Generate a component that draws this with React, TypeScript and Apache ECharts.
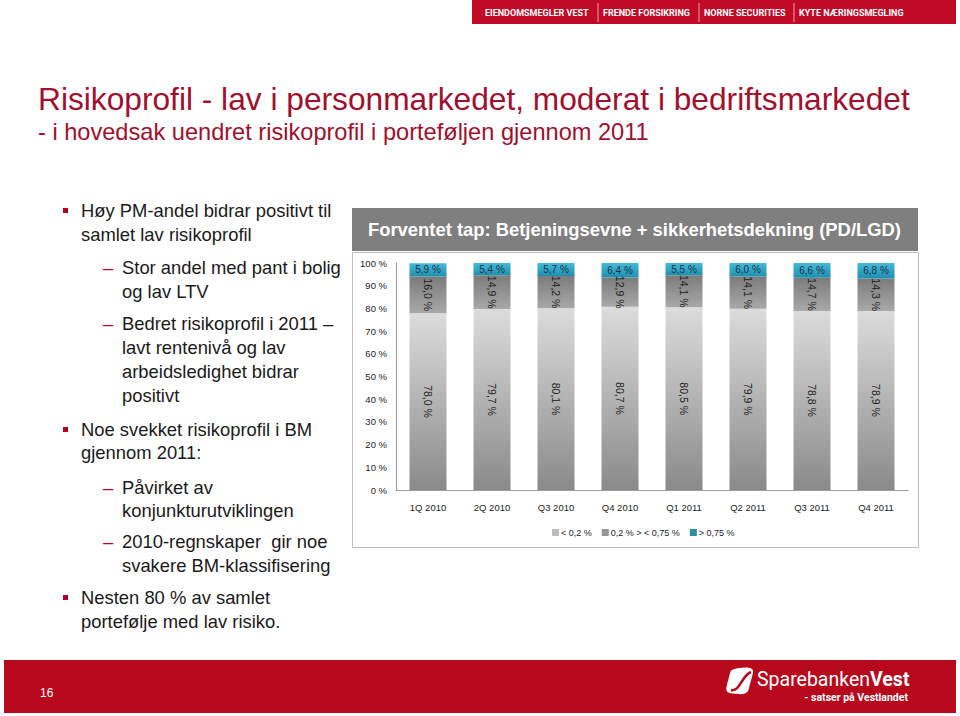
import React, { useEffect, useRef } from "react";
import * as echarts from "echarts";

const categories = ["1Q 2010", "2Q 2010", "Q3 2010", "Q4 2010", "Q1 2011", "Q2 2011", "Q3 2011", "Q4 2011"];
const lowRisk = [78.0, 79.7, 80.1, 80.7, 80.5, 79.9, 78.8, 78.9];
const midRisk = [16.0, 14.9, 14.2, 12.9, 14.1, 14.1, 14.7, 14.3];
const highRisk = [5.9, 5.4, 5.7, 6.4, 5.5, 6.0, 6.6, 6.8];
const seriesNames = ["< 0,2 %", "0,2 % > < 0,75 %", "> 0,75 %"];

const topBarItems = ["EIENDOMSMEGLER VEST", "FRENDE FORSIKRING", "NORNE SECURITIES", "KYTE NÆRINGSMEGLING"];
const titleText = "Risikoprofil - lav i personmarkedet, moderat i bedriftsmarkedet";
const subtitleText = "- i hovedsak uendret risikoprofil i porteføljen gjennom 2011";
const chartTitle = "Forventet tap: Betjeningsevne + sikkerhetsdekning (PD/LGD)";
const pageNumber = "16";

const bulletLevels = [1, 2, 2, 1, 2, 2, 1];
const bulletTexts = [
  ["Høy PM-andel bidrar positivt til", "samlet lav risikoprofil"],
  ["Stor andel med pant i bolig", "og lav LTV"],
  ["Bedret risikoprofil i 2011 –", "lavt rentenivå og lav", "arbeidsledighet bidrar", "positivt"],
  ["Noe svekket risikoprofil i BM", "gjennom 2011:"],
  ["Påvirket av", "konjunkturutviklingen"],
  ["2010-regnskaper  gir noe", "svakere BM-klassifisering"],
  ["Nesten 80 % av samlet", "portefølje med lav risiko."],
];

const fmt = (v: number) => v.toFixed(1).replace(".", ",") + " %";

echarts.graphic.registerShape(
  "sbvLogo",
  echarts.graphic.extendPath(
    "M7 3 C14 0.5 24 0 28 1.5 C30.5 2.5 30.5 5.5 29.5 8.5 L25 25 C24 28 21 29.5 16 29.5 C10 29.5 4 29 1.5 27 C0 25.5 0.2 22.5 1 19.5 L4.5 6.5 C5 4.8 5.8 3.5 7 3 Z",
    {}
  )
);

export default function App() {
  const ref = useRef<HTMLDivElement>(null);
  useEffect(() => {
    if (!ref.current) return;
    const chart = echarts.init(ref.current, undefined, { renderer: "svg" });

    const txt = (x: number, y: number, text: string, s: any) => ({
      type: "text",
      x,
      y,
      silent: true,
      style: Object.assign(
        {
          text,
          fontFamily: "Liberation Sans, Arial",
          align: "left",
          textAlign: "left",
          verticalAlign: "middle",
          textVerticalAlign: "middle",
        },
        s
      ),
    });

    const graphics: any[] = [];
    // top red bar
    graphics.push({ type: "rect", silent: true, shape: { x: 472, y: 0, width: 484, height: 24 }, style: { fill: "#C10A25" } });
    const topX = [485, 603, 704, 799];
    topBarItems.forEach((t, i) => {
      graphics.push(txt(topX[i], 13, t, { fill: "#ffffff", fontSize: 9, fontWeight: "bold", fontFamily: "Roboto" }));
    });
    [598, 699, 794].forEach((x) => {
      graphics.push({ type: "line", silent: true, shape: { x1: x, y1: 3, x2: x, y2: 22 }, style: { stroke: "#e8a0a8", lineWidth: 1 } });
    });

    // title
    graphics.push(txt(38, 99, titleText, { fill: "#A0102E", fontSize: 31.7 }));
    graphics.push(txt(38, 132, subtitleText, { fill: "#A0102E", fontSize: 23.6 }));

    // bullets
    const bulletBaselines = [
      [216, 240],
      [273, 297],
      [329, 353, 377, 401],
      [435, 458],
      [493, 516],
      [547, 571],
      [603, 627],
    ];
    bulletTexts.forEach((lines, i) => {
      const lvl = bulletLevels[i];
      const tx = lvl === 1 ? 81 : 122;
      lines.forEach((line, j) => {
        const cy = bulletBaselines[i][j] - 6;
        graphics.push(txt(tx, cy, line, { fill: "#1a1a1a", fontSize: 18.4 }));
      });
      const fy = bulletBaselines[i][0];
      if (lvl === 1) {
        graphics.push({ type: "rect", silent: true, shape: { x: 63, y: fy - 8, width: 5, height: 5 }, style: { fill: "#C00020" } });
      } else {
        graphics.push(txt(103, fy - 6, "–", { fill: "#C00020", fontSize: 18.4 }));
      }
    });

    // chart title box & frame
    graphics.push({ type: "rect", silent: true, shape: { x: 352, y: 208, width: 566, height: 43 }, style: { fill: "#7f7f7f" } });
    graphics.push(txt(368, 229.5, chartTitle, { fill: "#ffffff", fontSize: 18.4, fontWeight: "bold" }));
    graphics.push({ type: "rect", silent: true, z: -10, shape: { x: 352.5, y: 252.5, width: 566, height: 295 }, style: { fill: "none", stroke: "#bdbdbd", lineWidth: 1 } });

    // bottom red band
    graphics.push({ type: "rect", silent: true, shape: { x: 4, y: 660, width: 952, height: 53 }, style: { fill: "#B8081C" } });
    graphics.push(txt(40, 693, pageNumber, { fill: "#ffffff", fontSize: 12 }));
    // logo
    graphics.push({ type: "sbvLogo", silent: true, x: 726, y: 667, scaleX: 0.9, scaleY: 0.92, style: { fill: "#ffffff" } });
    graphics.push({
      type: "bezierCurve",
      silent: true,
      shape: { x1: 731, y1: 690, cpx1: 740, cpy1: 692, cpx2: 742, cpy2: 675, x2: 751, y2: 672 },
      style: { stroke: "#B8081C", lineWidth: 2.5, fill: "none" },
    });
    graphics.push({
      type: "text",
      silent: true,
      x: 757,
      y: 679,
      style: {
        text: "{a|Sparebanken}{b|Vest}",
        verticalAlign: "middle",
        textVerticalAlign: "middle",
        rich: {
          a: { fontFamily: "Roboto", fontSize: 19.5, fill: "#ffffff", color: "#ffffff" },
          b: { fontFamily: "Roboto", fontSize: 19.5, fontWeight: "bold", fill: "#ffffff", color: "#ffffff" },
        },
      },
    });
    graphics.push(txt(908, 697, "- satser på Vestlandet", { fill: "#ffffff", fontSize: 10.5, fontWeight: "bold", fontFamily: "Roboto", align: "right", textAlign: "right" }));

    const grad = (c1: string, c2: string) => new echarts.graphic.LinearGradient(0, 0, 0, 1, [
      { offset: 0, color: c1 },
      { offset: 1, color: c2 },
    ]);

    const lblBase = { fontFamily: "Liberation Sans, Arial" };

    chart.setOption({
      animation: false,
      backgroundColor: "#ffffff",
      grid: { left: 396, right: 52, top: 263, bottom: 226, containLabel: false },
      xAxis: {
        type: "category",
        data: categories,
        axisLine: { show: true, lineStyle: { color: "#9a9a9a", width: 1 } },
        axisTick: { show: false },
        axisLabel: { color: "#222", fontSize: 9.5, fontFamily: "Liberation Sans, Arial", margin: 12 },
      },
      yAxis: {
        type: "value",
        min: 0,
        max: 100,
        interval: 10,
        axisLine: { show: true, lineStyle: { color: "#9a9a9a", width: 1 } },
        axisTick: { show: false },
        splitLine: { show: false },
        axisLabel: { color: "#222", fontSize: 9.5, fontFamily: "Liberation Sans, Arial", margin: 9, formatter: "{value} %" },
      },
      legend: {
        left: 547,
        top: 523,
        itemWidth: 7,
        itemHeight: 7,
        itemGap: 10,
        icon: "rect",
        textStyle: { color: "#222", fontSize: 9, fontFamily: "Liberation Sans, Arial", padding: [0, 0, 0, -3] },
        data: [
          { name: seriesNames[0], itemStyle: { color: "#bdbdbd" } },
          { name: seriesNames[1], itemStyle: { color: "#959595" } },
          { name: seriesNames[2], itemStyle: { color: "#2f8ea8" } },
        ],
      },
      series: [
        {
          name: seriesNames[0],
          type: "bar",
          stack: "risk",
          data: lowRisk,
          barWidth: 37,
          itemStyle: { color: grad("#dcdcdc", "#8a8a8a") },
          label: { show: true, position: "inside", rotate: -90, formatter: (p: any) => fmt(p.value), color: "#222", fontSize: 10.5, ...lblBase },
        },
        {
          name: seriesNames[1],
          type: "bar",
          stack: "risk",
          data: midRisk,
          barWidth: 37,
          itemStyle: { color: grad("#7c7c7c", "#a8a8a8") },
          label: { show: true, position: "inside", rotate: -90, formatter: (p: any) => fmt(p.value), color: "#222", fontSize: 10.5, ...lblBase },
        },
        {
          name: seriesNames[2],
          type: "bar",
          stack: "risk",
          data: highRisk,
          barWidth: 37,
          itemStyle: { color: grad("#45b9d8", "#1f8fae") },
          label: { show: true, position: "inside", formatter: (p: any) => fmt(p.value), color: "#1f3350", fontSize: 10, ...lblBase },
        },
      ],
      graphic: graphics,
    });
    return () => chart.dispose();
  }, []);
  return <div ref={ref} style={{ position: "absolute", left: 0, top: 0, width: 960, height: 716 }} />;
}
